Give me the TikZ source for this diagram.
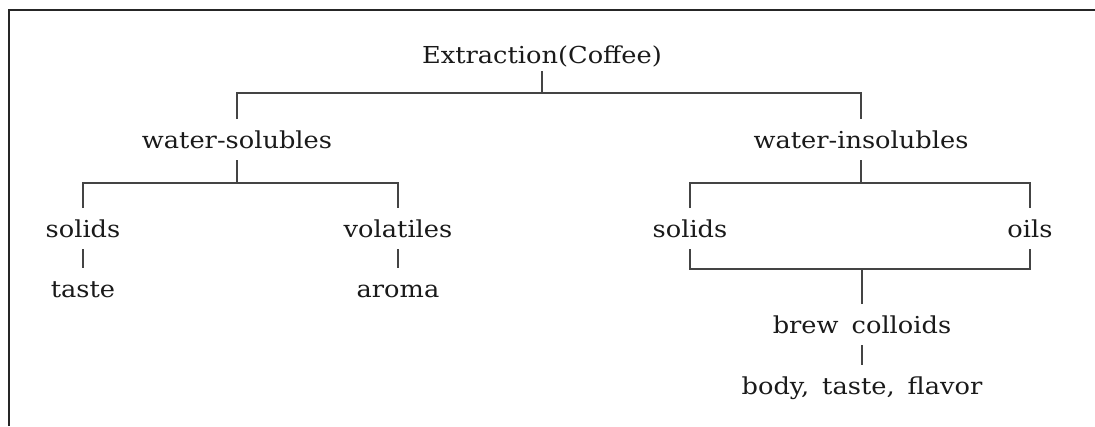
\documentclass[tikz,border=0pt]{standalone}
\usepackage{fontspec}
\setmainfont{DejaVu Serif}[FakeStretch=1.1,WordSpace=1.6]
\definecolor{ink}{HTML}{1A1A1A}
\definecolor{wire}{HTML}{444444}
\begin{document}
\begin{tikzpicture}[x=0.75pt,y=-0.75pt,
  lbl/.style={anchor=base,inner xsep=0pt,inner ysep=9pt,text height=12.5pt,text depth=0pt,
    font=\fontsize{17.5pt}{19pt}\selectfont,text=ink},
  conn/.style={draw=wire,line width=0.8pt},
  frame/.style={draw=black!85,line width=1.5pt}]
\useasboundingbox (0,0) rectangle (1095,426);
\draw[frame] (9,426) -- (9,10) -- (1095,10);
% nodes
\node[lbl,inner ysep=6pt] (root) at (542,63) {Extraction(Coffee)};
\node[lbl] (ws) at (237,148) {water-solubles};
\node[lbl] (wi) at (861,148) {water-insolubles};
\node[lbl] (ls) at (83,237) {solids};
\node[lbl] (vol) at (398,237) {volatiles};
\node[lbl] (taste) at (83,297) {taste};
\node[lbl] (aroma) at (398,297) {aroma};
\node[lbl] (rs) at (690,237) {solids};
\node[lbl] (oils) at (1030,237) {oils};
\node[lbl] (bc) at (862,333) {brew colloids};
\node[lbl] (body) at (862,394) {body, taste, flavor};
% junction levels
\coordinate (top) at (0,93);
\coordinate (mid) at (0,183);
\coordinate (low) at (0,269);
% connectors
\draw[conn] (root.south) -- (root.south |- top);
\draw[conn] (ws.north) |- (wi.north |- top) -- (wi.north);
\draw[conn] (ws.south) -- (ws.south |- mid);
\draw[conn] (ls.north) |- (vol.north |- mid) -- (vol.north);
\draw[conn] (ls.south) -- (taste.north);
\draw[conn] (vol.south) -- (aroma.north);
\draw[conn] (wi.south) -- (wi.south |- mid);
\draw[conn] (rs.north) |- (oils.north |- mid) -- (oils.north);
\draw[conn] (rs.south) |- (oils.south |- low) -- (oils.south);
\draw[conn] (bc.north) -- (bc.north |- low);
\draw[conn] (bc.south) -- (body.north);
\end{tikzpicture}
\end{document}
